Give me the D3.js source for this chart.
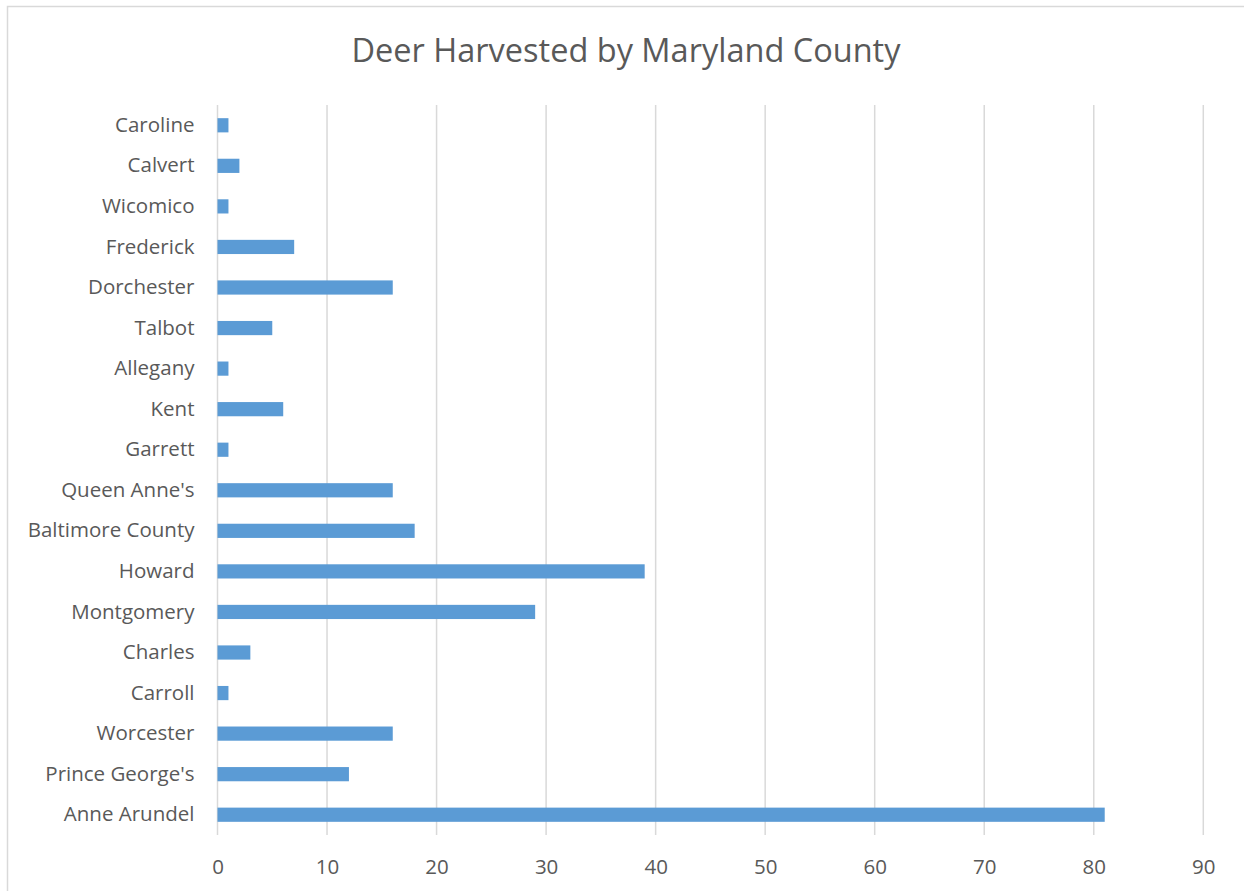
<!DOCTYPE html>
<html>
<head>
<meta charset="utf-8">
<script src="https://cdn.jsdelivr.net/npm/d3@7"></script>
<style>
  body { margin: 0; background: #fff; }
  svg text { font-family: 'Open Sans', sans-serif; fill: #595959; }
</style>
</head>
<body>
<svg id="chart"></svg>
<script>
const counties = ['Caroline', 'Calvert', 'Wicomico', 'Frederick', 'Dorchester', 'Talbot', 'Allegany',
  'Kent', 'Garrett', "Queen Anne's", 'Baltimore County', 'Howard', 'Montgomery', 'Charles',
  'Carroll', 'Worcester', "Prince George's", 'Anne Arundel']
const harvested = [1, 2, 1, 7, 16, 5, 1, 6, 1, 16, 18, 39, 29, 3, 1, 16, 12, 81]
const xTicks = [0, 10, 20, 30, 40, 50, 60, 70, 80, 90]
const TITLE = 'Deer Harvested by Maryland County'

const WIDTH = 1244
const HEIGHT = 891
const PLOT_LEFT = 217.5
const PLOT_RIGHT = 1203.3
const PLOT_TOP = 105
const PLOT_BOTTOM = 835

const svg = d3.select('#chart')
  .attr('width', WIDTH)
  .attr('height', HEIGHT)

// chart frame, runs off the right and bottom edges
svg.append('rect')
  .attr('x', 7.5)
  .attr('y', 6.5)
  .attr('width', WIDTH + 20)
  .attr('height', HEIGHT + 20)
  .attr('fill', 'none')
  .attr('stroke', '#d9d9d9')
  .attr('stroke-width', 1.5)

svg.append('text')
  .attr('x', 626)
  .attr('y', 62)
  .attr('text-anchor', 'middle')
  .style('font-size', '32.5px')
  .text(TITLE)

const xScale = d3.scaleLinear()
  .domain([0, 90])
  .range([PLOT_LEFT, PLOT_RIGHT])

const yScale = d3.scaleBand()
  .domain(counties)
  .range([PLOT_TOP, PLOT_BOTTOM])
  .paddingInner(0.65)
  .paddingOuter(0.325)

// vertical gridlines
svg.append('g')
  .selectAll('line')
  .data(xTicks)
  .join('line')
  .attr('x1', d => xScale(d))
  .attr('x2', d => xScale(d))
  .attr('y1', PLOT_TOP)
  .attr('y2', PLOT_BOTTOM)
  .attr('stroke', '#d9d9d9')
  .attr('stroke-width', 1.5)

svg.append('g')
  .selectAll('rect')
  .data(harvested)
  .join('rect')
  .attr('x', xScale(0))
  .attr('y', (d, i) => yScale(counties[i]))
  .attr('width', d => xScale(d) - xScale(0))
  .attr('height', yScale.bandwidth())
  .attr('fill', '#5b9bd5')

const xAxis = d3.axisBottom(xScale)
  .tickValues(xTicks)
  .tickSize(0)
  .tickPadding(24)
svg.append('g')
  .attr('transform', `translate(0, ${PLOT_BOTTOM})`)
  .call(xAxis)
  .call(g => g.select('.domain').remove())
  .selectAll('text')
  .style('font-size', '20.5px')
  .attr('fill', null)

const yAxis = d3.axisLeft(yScale)
  .tickSize(0)
  .tickPadding(23)
svg.append('g')
  .attr('transform', `translate(${PLOT_LEFT}, 0)`)
  .call(yAxis)
  .call(g => g.select('.domain').remove())
  .selectAll('text')
  .style('font-size', '20.5px')
  .attr('fill', null)
</script>
</body>
</html>
